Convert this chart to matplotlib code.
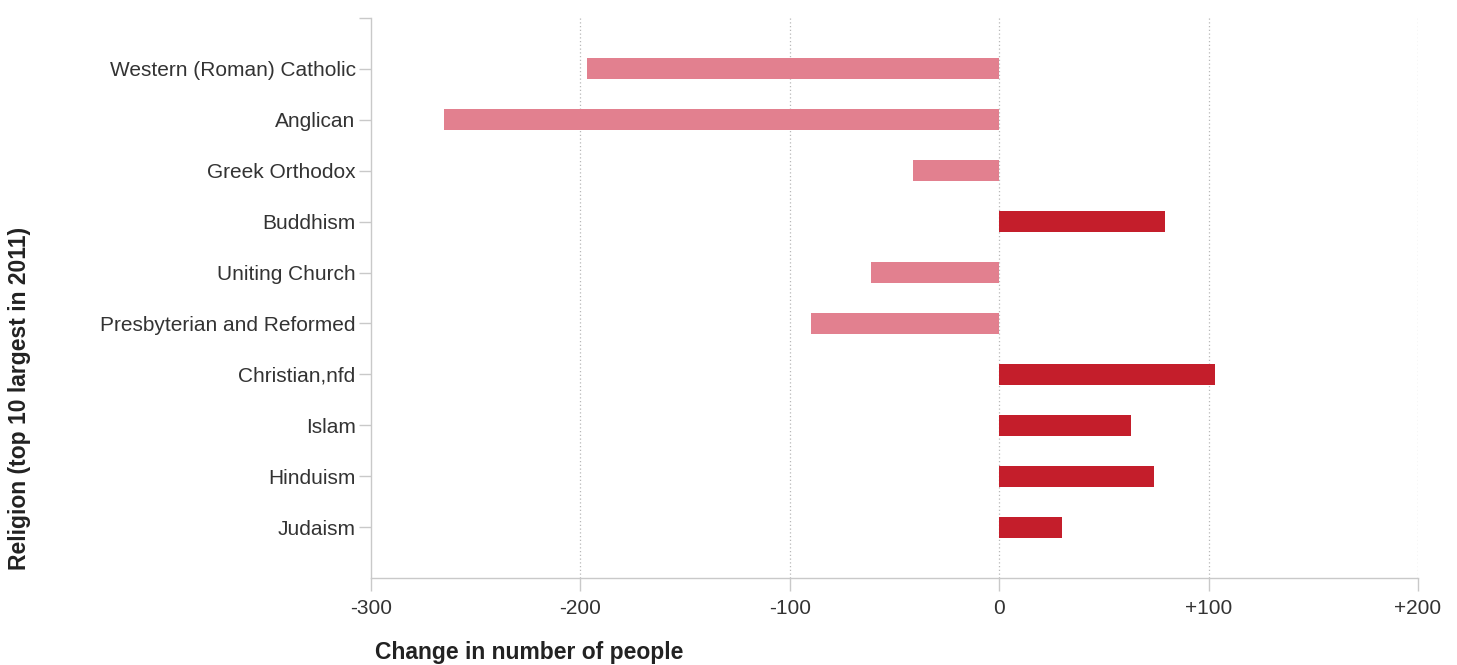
#!/usr/bin/env python3
# -*- coding: utf-8 -*-
"""Change in number of people by religion (top 10 largest in 2011), horizontal bars."""
import matplotlib
matplotlib.use("Agg")
import matplotlib.pyplot as plt  # noqa: E402
import numpy as np  # noqa: E402

# Data
religions = [
    "Western (Roman) Catholic",
    "Anglican",
    "Greek Orthodox",
    "Buddhism",
    "Uniting Church",
    "Presbyterian and Reformed",
    "Christian,nfd",
    "Islam",
    "Hinduism",
    "Judaism",
]
change = [-197, -265, -41, 79, -61, -90, 103, 63, 74, 30]
x_ticks = [-300, -200, -100, 0, 100, 200]
x_tick_labels = ["-300", "-200", "-100", "0", "+100", "+200"]

NEG_COLOR = "#e2808f"
POS_COLOR = "#c41e2b"
AXIS_GRAY = "#c9c9c9"
TEXT = "#333333"

plt.rcParams.update({
    "font.family": ["Liberation Sans", "DejaVu Sans"],
})

fig = plt.figure(figsize=(14.57, 6.65), dpi=100)
ax = fig.add_axes([0.2546, 0.1308, 0.9732 - 0.2546, 0.973 - 0.1308])

y = np.arange(len(religions))
colors = [POS_COLOR if v > 0 else NEG_COLOR for v in change]
ax.barh(y, change, height=0.41, color=colors, zorder=3)

ax.set_xlim(-300, 200)
ax.set_ylim(len(religions), -1)

ax.set_xticks(x_ticks)
ax.set_xticklabels(x_tick_labels)
ax.set_yticks(y)
ax.set_yticklabels(religions)
ax.set_yticks([-1], minor=True)

# vertical dotted grid
for xv in x_ticks[1:]:
    ax.axvline(xv, color="#b8b8b8", linestyle=(0, (1, 2)), linewidth=0.9, zorder=1)

for side in ("top", "right"):
    ax.spines[side].set_visible(False)
for side in ("left", "bottom"):
    ax.spines[side].set_color(AXIS_GRAY)
    ax.spines[side].set_linewidth(1.0)

ax.tick_params(axis="both", which="both", color=AXIS_GRAY, length=9, width=1.0,
               labelsize=15, labelcolor=TEXT)
ax.tick_params(axis="y", pad=2)
ax.tick_params(axis="x", pad=6)

fig.text(375 / 1457, 1 - 652 / 665, "Change in number of people", fontsize=16.5,
         fontweight="bold", color="#222222", ha="left", va="center")
fig.text(20 / 1457, 1 - 398 / 665, "Religion (top 10 largest in 2011)", fontsize=16.5,
         fontweight="bold", color="#222222", ha="center", va="center", rotation=90)

fig.savefig("out.png", dpi=100)
